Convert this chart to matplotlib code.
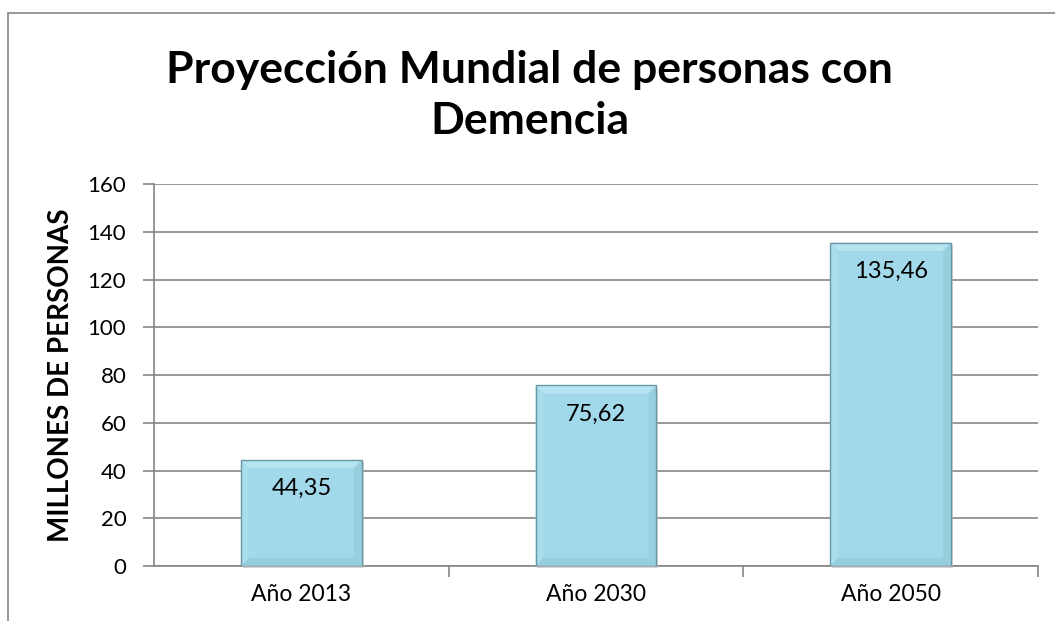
import matplotlib.pyplot as plt
from matplotlib.patches import Rectangle, Polygon
import numpy as np

categorias = ["Año 2013", "Año 2030", "Año 2050"]
valores = [44.35, 75.62, 135.46]
etiquetas = ["44,35", "75,62", "135,46"]

plt.rcParams['font.family'] = ['Lato', 'DejaVu Sans']

fig = plt.figure(figsize=(10.55, 6.21), dpi=100)
ax = fig.add_axes([0.146, 0.0886, 0.838, 0.615])

# marco del grafico (recortado a la derecha y abajo)
fig.patches.append(Rectangle((8/1055, -0.1), 1.2, (621-13)/621 + 0.1, transform=fig.transFigure,
                             fill=False, edgecolor='#868686', linewidth=1.2))

ind = np.arange(len(categorias))
bars = ax.bar(ind, valores, width=0.41, color='#a1d9ea', edgecolor='none', zorder=3)

ax.set_xlim(-0.5, len(categorias) - 0.5)
ax.set_ylim(0, 160)

# efecto biselado y sombra de las barras (estilo Excel)
bx = 0.027   # ancho del bisel en unidades x
by = 3.4     # alto del bisel en unidades y
for b in bars:
    x0, x1 = b.get_x(), b.get_x() + b.get_width()
    y0, y1 = 0, b.get_height()
    ax.add_patch(Rectangle((x0 + 0.006, y0 - 0.9), x1 - x0, y1 - y0, facecolor='#b8b8b8',
                           edgecolor='none', alpha=0.6, zorder=2.9, clip_on=False))
    caras = [
        ([(x0, y1), (x1, y1), (x1-bx, y1-by), (x0+bx, y1-by)], '#b6e4f1'),
        ([(x0, y0), (x0, y1), (x0+bx, y1-by), (x0+bx, y0+by)], '#a9ddec'),
        ([(x1, y0), (x1, y1), (x1-bx, y1-by), (x1-bx, y0+by)], '#97cfdf'),
        ([(x0, y0), (x1, y0), (x1-bx, y0+by), (x0+bx, y0+by)], '#95cddd'),
    ]
    for pts, c in caras:
        ax.add_patch(Polygon(pts, closed=True, facecolor=c, edgecolor='none', zorder=3.5))
    ax.add_patch(Rectangle((x0, y0), x1-x0, y1-y0, fill=False, edgecolor='#6a97a5', linewidth=1.0, zorder=3.6))

for b, txt in zip(bars, etiquetas):
    ax.text(b.get_x() + b.get_width()/2, b.get_height() - 7.5, txt, ha='center', va='top',
            fontsize=17, color='black', zorder=4)

ax.set_yticks(np.arange(0, 161, 20))
ax.yaxis.grid(True, color='#868686', linewidth=1.2)
ax.set_axisbelow(True)

ax.set_xticks(ind)
ax.set_xticklabels(categorias, fontsize=16.5)
ax.tick_params(axis='x', length=0, pad=13)
ax.set_xticks(np.arange(0.5, len(categorias) - 0.4, 1), minor=True)
ax.tick_params(axis='x', which='minor', length=8, color='#868686', width=1.2)
ax.tick_params(axis='y', labelsize=16, length=8, color='#868686', width=1.2, pad=12)

for s in ['top', 'right']:
    ax.spines[s].set_visible(False)
ax.spines['left'].set_color('#868686')
ax.spines['bottom'].set_color('#868686')
ax.spines['left'].set_linewidth(1.2)
ax.spines['bottom'].set_linewidth(1.2)

ax.set_ylabel("MILLONES DE PERSONAS", fontsize=20, fontweight='bold', labelpad=10)

fig.text(0.502, 0.846, "Proyección Mundial de personas con\nDemencia", ha='center', va='center',
         fontsize=32, fontweight='bold', linespacing=1.32)

fig.savefig("out.png", dpi=100)
